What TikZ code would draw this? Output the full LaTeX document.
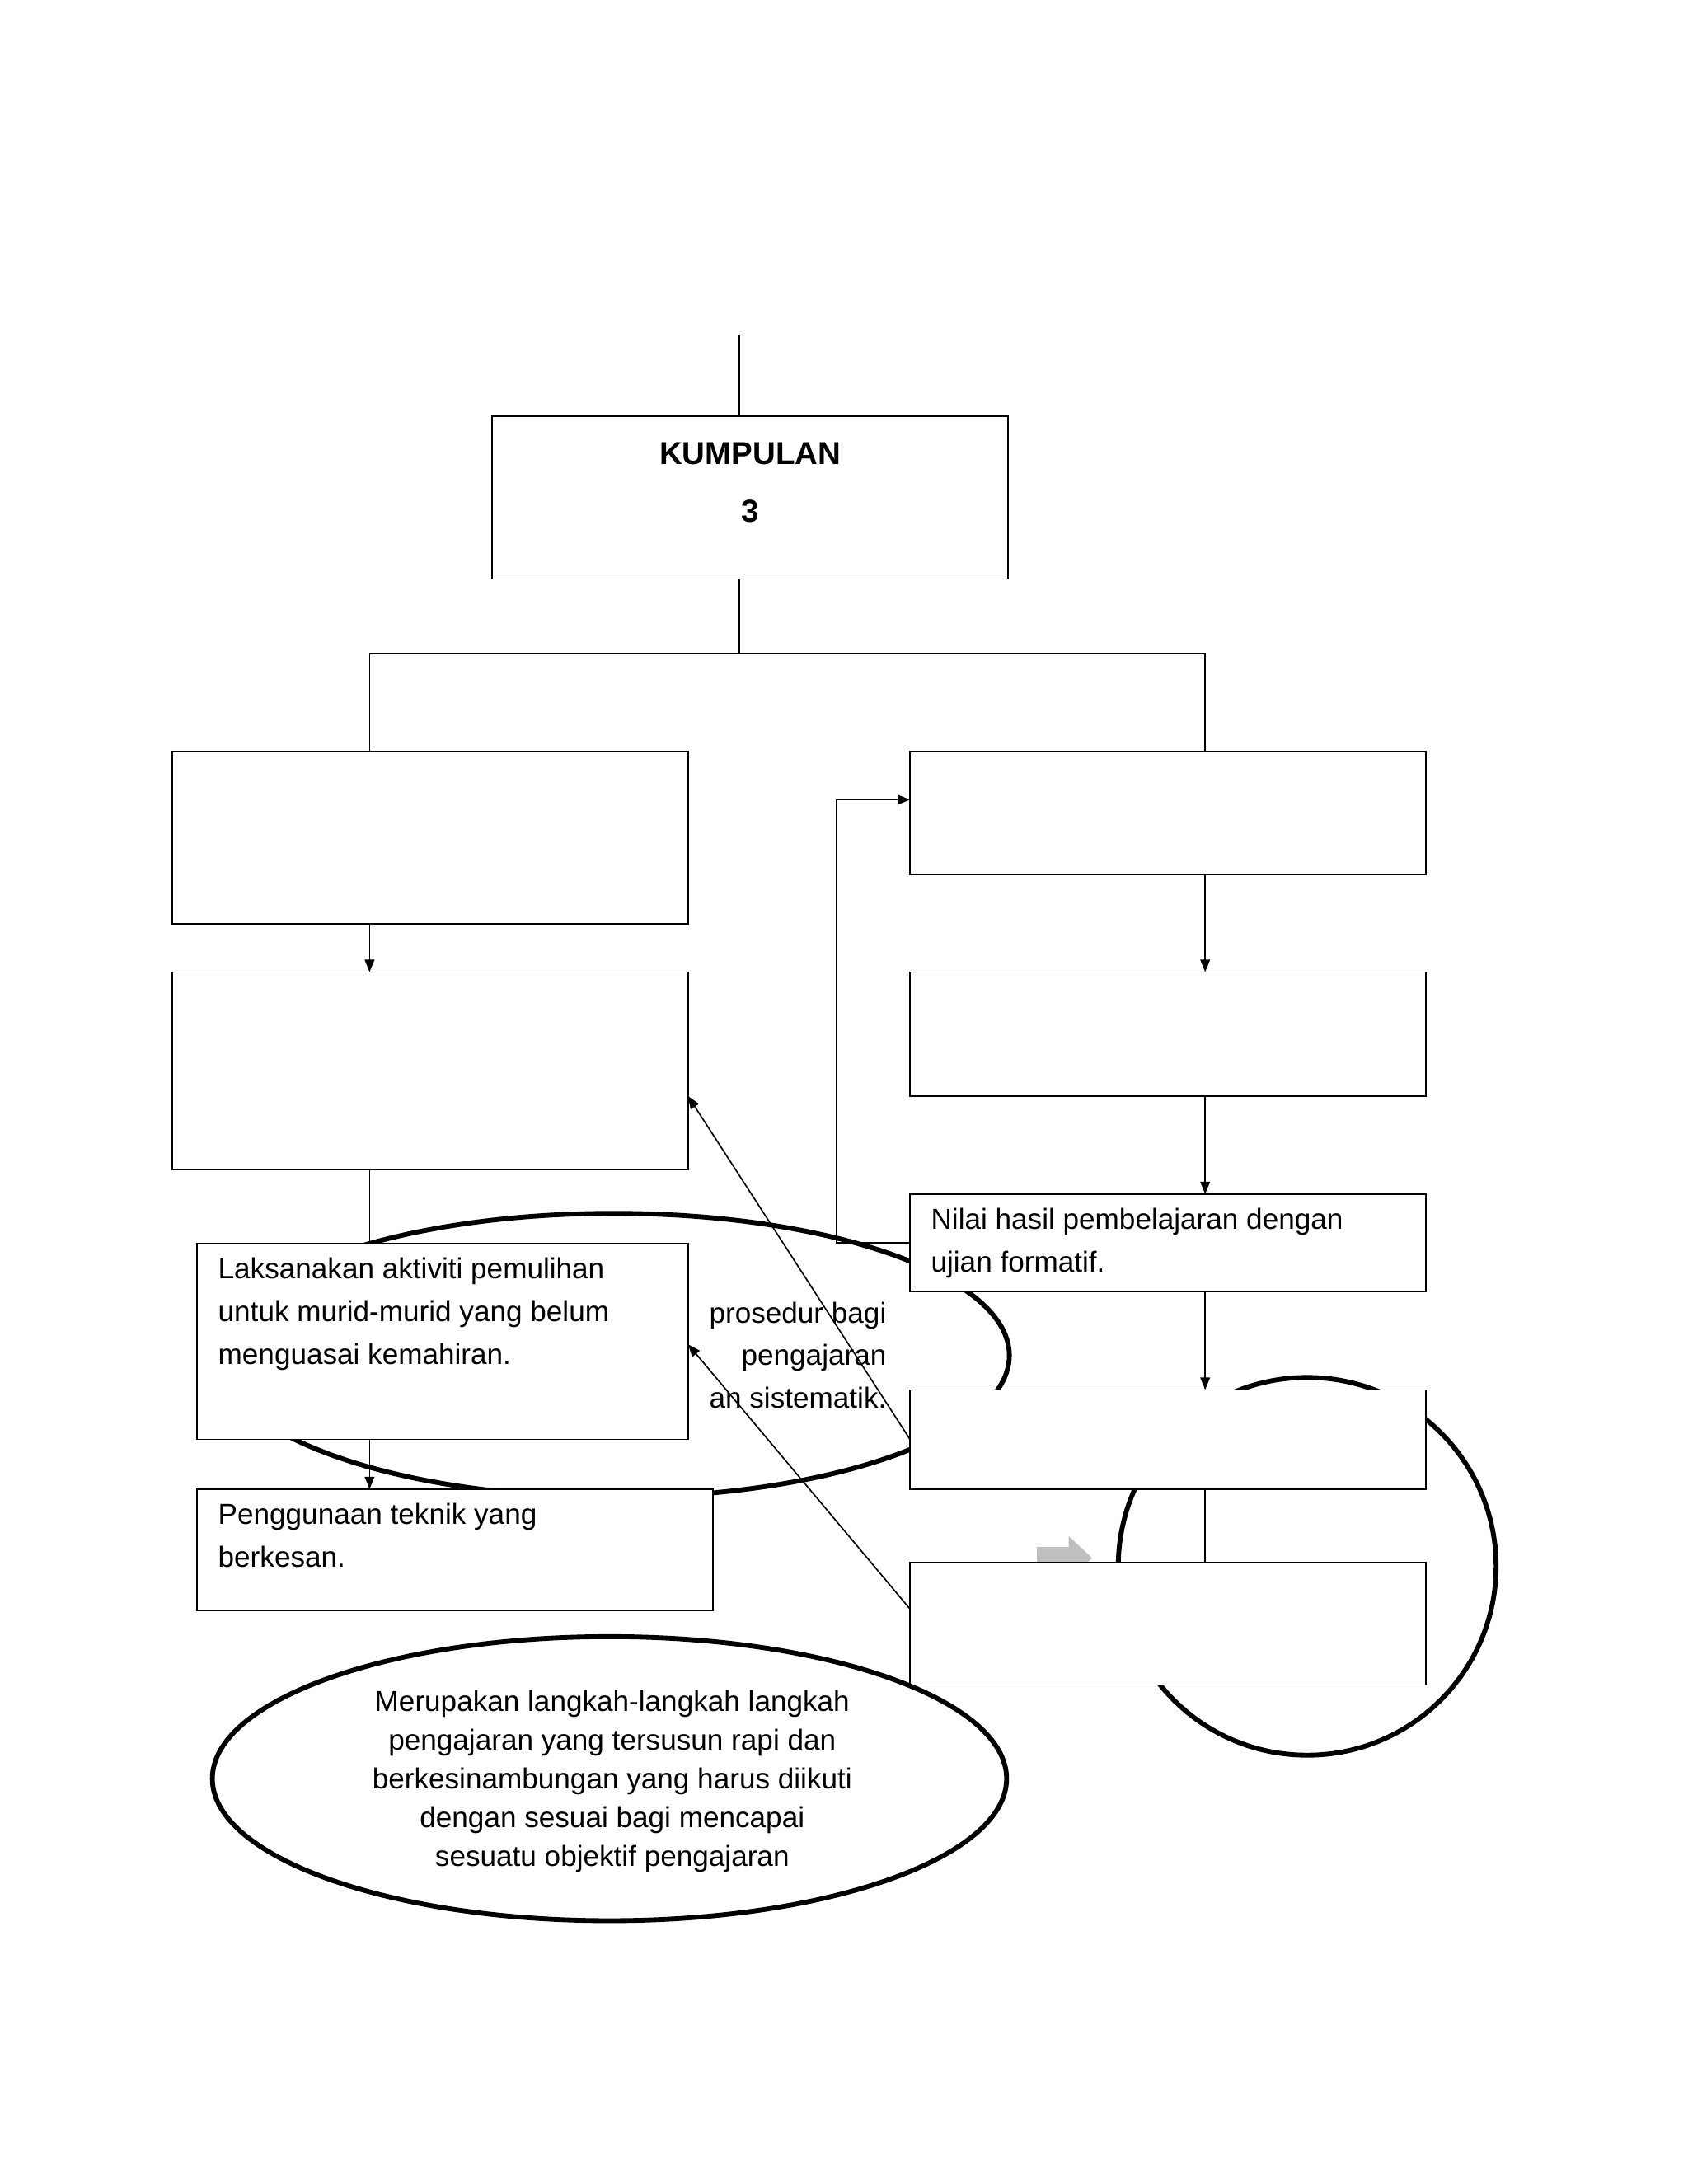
\documentclass[tikz,border=0pt]{standalone}
\usepackage{fontspec}
\setmainfont{Liberation Sans}
\usetikzlibrary{arrows.meta}
\tikzset{
  kotak/.style={draw,fill=white,line width=1pt,inner sep=0pt},
  bujur/.style={line width=3.5pt},
  anak/.style={-{Triangle[length=9pt,width=7pt]},line width=1pt},
  teks/.style={font=\fontsize{21}{31}\selectfont,align=left,anchor=north west,inner sep=0pt}
}
\begin{document}
\begin{tikzpicture}[x=1pt,y=-1pt]
\useasboundingbox (0,0) rectangle (1224,1584);

% ellipse 1 and its text
\draw[bujur] (445,983) ellipse [x radius=287, y radius=103];
\node[teks,anchor=north east,align=right] (teksbujur) at (643,944)
  {prosedur bagi\\pengajaran\\an sistematik.};

% circle KAEDAH
\draw[bujur] (948,1136) circle [radius=137];
\begin{scope}
\clip (800,1000) rectangle (1090,1133);
\node[font=\fontsize{34}{34}\selectfont\bfseries] (kaedah) at (948,1148) {KAEDAH};
\end{scope}
\fill[gray!50] (752,1122) -- (775,1122) -- (775,1114) -- (792,1130) -- (775,1146) -- (775,1138) -- (752,1138) -- cycle;

% main box
\coordinate (atas) at (536,243);
\node[kotak,minimum width=374pt,minimum height=118pt] (kumpulan) at (544,361) {};
\node[font=\fontsize{23}{42}\selectfont\bfseries,align=center] (judul) at (544,350) {KUMPULAN\\3};
\draw[line width=1pt] (atas) -- (atas|-kumpulan.north);
\coordinate (cabang) at (536,474);
\draw[line width=1pt] (cabang|-kumpulan.south) -- (cabang);

% left column
\node[kotak,minimum width=374pt,minimum height=125pt] (kiri1) at (312,607.5) {};
\node[kotak,minimum width=374pt,minimum height=143pt] (kiri2) at (312,776.5) {};
\node[kotak,minimum width=356pt,minimum height=142pt] (kiri3) at (321,973) {};
\node[teks] (tkiri3) at (158,912) {Laksanakan aktiviti pemulihan\\untuk murid-murid yang belum\\menguasai kemahiran.};
\node[kotak,minimum width=374pt,minimum height=88pt] (kiri4) at (330,1124) {};
\node[teks] (tkiri4) at (158,1090) {Penggunaan teknik yang\\berkesan.};

% right column
\node[kotak,minimum width=374pt,minimum height=89pt] (kanan1) at (847,589.5) {};
\node[kotak,minimum width=374pt,minimum height=90pt] (kanan2) at (847,750) {};
\node[kotak,minimum width=374pt,minimum height=71pt] (kanan3) at (847,901.5) {};
\node[teks] (tkanan3) at (675,876) {Nilai hasil pembelajaran dengan\\ujian formatif.};
\node[kotak,minimum width=374pt,minimum height=72pt] (kanan4) at (847,1044) {};
\node[kotak,minimum width=374pt,minimum height=89pt] (kanan5) at (847,1177.5) {};

% branches
\draw[line width=1pt] (268,545) |- (cabang) -| (874,545);
\draw[anak] (268,670) -- (268,705);
\draw[line width=1pt] (268,848) -- (268,902);
\draw[anak] (268,1044) -- (268,1080);
\draw[anak] (874,634) -- (874,705);
\draw[anak] (874,795) -- (874,866);
\draw[anak] (874,937) -- (874,1008);
\draw[line width=1pt] (874,1080) -- (874,1133);
\draw[anak] (kanan3.west) -- ++(-53,0) |- (660,580);
\draw[anak] (660,1044) -- (499,795);
\draw[anak] (660,1167) -- (499,975);

% ellipse 2
\draw[bujur] (442,1290) ellipse [x radius=288, y radius=103];
\node[font=\fontsize{21}{28}\selectfont,align=center] (takrif) at (444,1292)
  {Merupakan langkah-langkah langkah\\pengajaran yang tersusun rapi dan\\berkesinambungan yang harus diikuti\\dengan sesuai bagi mencapai\\sesuatu objektif pengajaran};
\end{tikzpicture}
\end{document}
